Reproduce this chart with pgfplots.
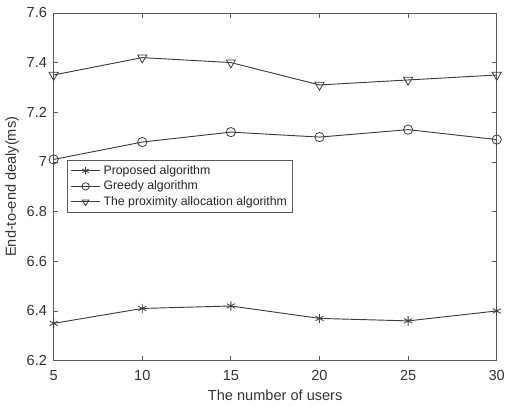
\documentclass[border=0pt]{standalone}
\usepackage{pgfplots}
\pgfplotsset{compat=1.18}
\usepackage{fontspec}
\setmainfont{Liberation Sans}
\definecolor{ln}{RGB}{60,60,60}
\definecolor{ax}{RGB}{90,90,90}
\begin{document}
\begin{tikzpicture}
\begin{axis}[
  name=ax,
  scale only axis,
  width=334.5pt, height=262.5pt,
  xmin=5, xmax=30, ymin=6.2, ymax=7.6,
  xtick={5,10,15,20,25,30},
  ytick={6.2,6.4,6.6,6.8,7.0,7.2,7.4,7.6},
  yticklabels={6.2,6.4,6.6,6.8,7,7.2,7.4,7.6},
  tick align=inside,
  major tick length=3.5pt,
  axis line style={ax, line width=0.6pt},
  every tick/.style={ax, line width=0.6pt},
  tick label style={font=\fontsize{11}{13}\selectfont, text=black!80},
  xticklabel style={yshift=-4pt},
  yticklabel style={xshift=-1.5pt},
  /pgf/number format/assume math mode=true,
  xlabel={The number of users},
  ylabel={End-to-end dealy(ms)},
  label style={font=\fontsize{11}{13}\selectfont, text=black!80},
  xlabel style={at={(axis description cs:0.5,-0.1)}, anchor=center},
  ylabel style={at={(axis description cs:-0.094,0.5)}, anchor=center},
  legend style={at={(0.0307,0.578)}, anchor=north west, draw=ax, line width=0.6pt,
    font=\fontsize{9.3}{11}\selectfont, text=black!85, row sep=-0.5pt, inner sep=2pt},
  legend cell align=left,
  legend image code/.code={\draw[mark repeat=2,mark phase=2,#1] plot coordinates {(0pt,0pt) (11.25pt,0pt) (22.5pt,0pt)};},
  legend image post style={line width=0.6pt, mark size=2.8pt},
]
\addplot[ln, line width=0.7pt, mark=asterisk, mark size=3.5pt, mark options={line width=0.6pt}]
coordinates {(5,6.35) (10,6.41) (15,6.42) (20,6.37) (25,6.36) (30,6.40)};
\addlegendentry{Proposed algorithm}
\addplot[ln, line width=0.7pt, mark=o, mark size=3.5pt, mark options={line width=0.6pt}]
coordinates {(5,7.01) (10,7.08) (15,7.12) (20,7.10) (25,7.13) (30,7.09)};
\addlegendentry{Greedy algorithm}
\addplot[ln, line width=0.7pt, mark=triangle, mark size=4pt, mark options={rotate=180, line width=0.6pt}]
coordinates {(5,7.35) (10,7.42) (15,7.40) (20,7.31) (25,7.33) (30,7.35)};
\addlegendentry{The proximity allocation algorithm}
\end{axis}
\pgfresetboundingbox
\path[use as bounding box] ([xshift=-40.5pt,yshift=-34.5pt]ax.south west) rectangle ([xshift=7pt,yshift=9.75pt]ax.north east);
\end{tikzpicture}
\end{document}
